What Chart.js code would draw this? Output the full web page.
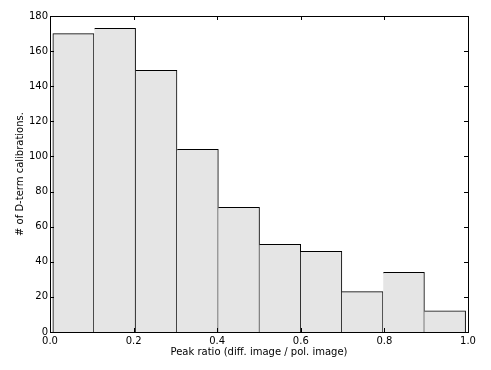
<!DOCTYPE html>
<html>
<head>
<meta charset="utf-8">
<script src="https://cdn.jsdelivr.net/npm/chart.js@4.4.0/dist/chart.umd.min.js"></script>
<style>
  body { margin: 0; background: #fff; }
  canvas { display: block; }
</style>
</head>
<body>
<canvas id="hist" width="491" height="370"></canvas>
<script>
// Histogram data
const binEdges = [0.006, 0.106, 0.205, 0.304, 0.403, 0.501, 0.600, 0.698, 0.797, 0.896, 0.994];
const counts = [170, 173, 149, 104, 71, 50, 46, 23, 34, 12];
const xTicks = [0.0, 0.2, 0.4, 0.6, 0.8, 1.0];
const yTicks = [0, 20, 40, 60, 80, 100, 120, 140, 160, 180];

const points = counts.map((c, i) => ({ x: (binEdges[i] + binEdges[i + 1]) / 2, y: c }));

// frame + inward tick marks like old matplotlib
const framePlugin = {
  id: "frame",
  afterDraw(chart) {
    const { ctx, chartArea: a, scales } = chart;
    const len = 4;
    ctx.save();
    ctx.strokeStyle = "#000";
    ctx.lineWidth = 1;
    ctx.beginPath();
    xTicks.forEach((v) => {
      const px = Math.round(scales.x.getPixelForValue(v)) + 0.5;
      ctx.moveTo(px, a.bottom);
      ctx.lineTo(px, a.bottom - len);
      ctx.moveTo(px, a.top);
      ctx.lineTo(px, a.top + len);
    });
    yTicks.forEach((v) => {
      const py = Math.round(scales.y.getPixelForValue(v)) + 0.5;
      ctx.moveTo(a.left, py);
      ctx.lineTo(a.left + len, py);
      ctx.moveTo(a.right, py);
      ctx.lineTo(a.right - len, py);
    });
    ctx.stroke();
    ctx.strokeRect(Math.round(a.left) + 0.5, Math.round(a.top) + 0.5,
      Math.round(a.right - a.left), Math.round(a.bottom - a.top));
    ctx.restore();
  },
};

const font = { family: "DejaVu Sans", size: 10 };

new Chart(document.getElementById("hist"), {
  type: "bar",
  data: {
    datasets: [
      {
        data: points,
        backgroundColor: "#e5e5e5",
        borderColor: "#000",
        borderWidth: (c) => ({ top: 1, right: 1, bottom: 0, left: c.dataIndex === 0 ? 1 : 0 }),
        borderSkipped: false,
        barPercentage: 1,
        categoryPercentage: 1,
      },
    ],
  },
  options: {
    responsive: false,
    animation: false,
    layout: { padding: { top: 16, right: 23, left: 0, bottom: 0 } },
    plugins: { legend: { display: false }, tooltip: { enabled: false } },
    scales: {
      x: {
        type: "linear",
        min: 0,
        max: 1,
        offset: false,
        grid: { display: false, drawTicks: false },
        border: { display: false },
        afterBuildTicks: (s) => { s.ticks = xTicks.map((v) => ({ value: v })); },
        afterFit: (s) => { s.height = 38; },
        ticks: {
          color: "#000",
          font: font,
          padding: 3,
          maxRotation: 0,
          callback: (v) => v.toFixed(1),
        },
        title: {
          display: true,
          text: "Peak ratio (diff. image / pol. image)",
          color: "#000",
          font: font,
          padding: { top: 0, bottom: 12 },
        },
      },
      y: {
        min: 0,
        max: 180,
        grid: { display: false, drawTicks: false },
        border: { display: false },
        afterBuildTicks: (s) => { s.ticks = yTicks.map((v) => ({ value: v })); },
        afterFit: (s) => { s.width = 50; },
        ticks: { color: "#000", font: font, padding: 2 },
        title: {
          display: true,
          text: "# of D-term calibrations.",
          color: "#000",
          font: font,
          padding: { top: 14, bottom: 0 },
        },
      },
    },
  },
  plugins: [framePlugin],
});
</script>
</body>
</html>
